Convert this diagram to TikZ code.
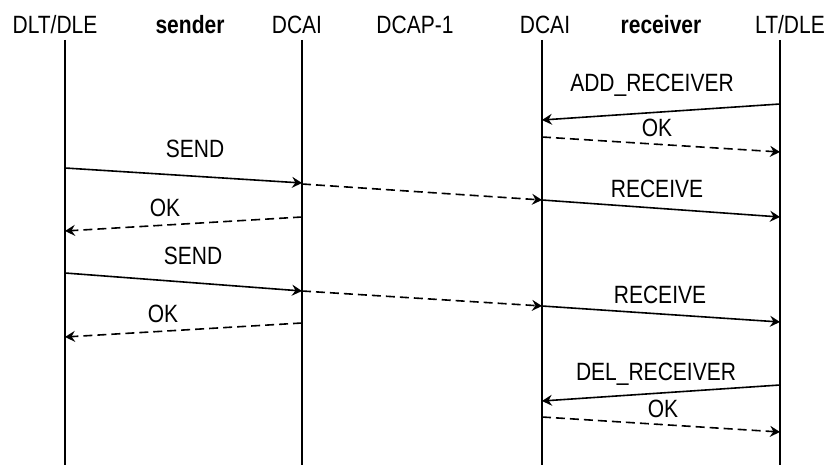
\documentclass[tikz,border=0pt]{standalone}
\usepackage{fontspec}
\setmainfont{Liberation Sans}[FakeStretch=0.84]
\usetikzlibrary{arrows.meta}

\begin{document}
\begin{tikzpicture}[x=1pt,y=-1pt,font=\fontsize{25}{30}\selectfont]
  \tikzstyle{head}=[inner sep=0pt, anchor=base]
  \tikzstyle{msg}=[inner sep=0pt, anchor=base]
  \tikzstyle{lifeline}=[line width=1.5pt]
  \tikzstyle{call}=[line width=1.6pt, -{Stealth[length=10pt,width=11pt,inset=3.5pt]}]
  \tikzstyle{reply}=[call, dash pattern=on 9pt off 5pt]

  \useasboundingbox (0,0) rectangle (829,465);

  % headers
  \node[head] (dlt)   at (55,34)  {DLT/DLE};
  \node[head] (snd)   at (190,34) {\bfseries sender};
  \node[head] (dcai1) at (297,34) {DCAI};
  \node[head] (dcap)  at (415,34) {DCAP-1};
  \node[head] (dcai2) at (545,34) {DCAI};
  \node[head] (rcv)   at (661,34) {\bfseries receiver};
  \node[head] (ltdle) at (790,34) {LT/DLE};

  % lifelines
  \foreach \n/\x in {a/65, b/302, c/542, d/780}{
    \coordinate (\n top) at (\x,40);
    \coordinate (\n bot) at (\x,465);
    \draw[lifeline] (\n top) -- (\n bot);
  }

  % end points of the messages
  \coordinate (add s)   at (780,104); \coordinate (add e)   at (542,120);
  \coordinate (ok1 s)   at (542,137); \coordinate (ok1 e)   at (780,152);
  \coordinate (send1 s) at (65,168);  \coordinate (send1 e) at (302,183);
  \coordinate (fwd1 s)  at (302,184); \coordinate (fwd1 e)  at (542,200);
  \coordinate (rec1 s)  at (542,200); \coordinate (rec1 e)  at (780,217);
  \coordinate (ok2 s)   at (302,217); \coordinate (ok2 e)   at (65,231);
  \coordinate (send2 s) at (65,273);  \coordinate (send2 e) at (302,291);
  \coordinate (fwd2 s)  at (302,291); \coordinate (fwd2 e)  at (542,306);
  \coordinate (rec2 s)  at (542,306); \coordinate (rec2 e)  at (780,322);
  \coordinate (ok3 s)   at (302,323); \coordinate (ok3 e)   at (65,337);
  \coordinate (del s)   at (780,385); \coordinate (del e)   at (542,401);
  \coordinate (ok4 s)   at (542,417); \coordinate (ok4 e)   at (780,432);

  \draw[call]  (add s)   -- (add e);
  \draw[reply] (ok1 s)   -- (ok1 e);
  \draw[call]  (send1 s) -- (send1 e);
  \draw[reply] (fwd1 s)  -- (fwd1 e);
  \draw[call]  (rec1 s)  -- (rec1 e);
  \draw[reply] (ok2 s)   -- (ok2 e);
  \draw[call]  (send2 s) -- (send2 e);
  \draw[reply] (fwd2 s)  -- (fwd2 e);
  \draw[call]  (rec2 s)  -- (rec2 e);
  \draw[reply] (ok3 s)   -- (ok3 e);
  \draw[call]  (del s)   -- (del e);
  \draw[reply] (ok4 s)   -- (ok4 e);

  % labels
  \node[msg] (add)   at (652,92)  {ADD\_RECEIVER};
  \node[msg] (ok1)   at (657,137) {OK};
  \node[msg] (send1) at (195,158) {SEND};
  \node[msg] (rec1)  at (657,197) {RECEIVE};
  \node[msg] (ok2)   at (165,216) {OK};
  \node[msg] (send2) at (193,264) {SEND};
  \node[msg] (rec2)  at (660,303) {RECEIVE};
  \node[msg] (ok3)   at (163,322) {OK};
  \node[msg] (del)   at (656,380) {DEL\_RECEIVER};
  \node[msg] (ok4)   at (663,417) {OK};
\end{tikzpicture}
\end{document}
